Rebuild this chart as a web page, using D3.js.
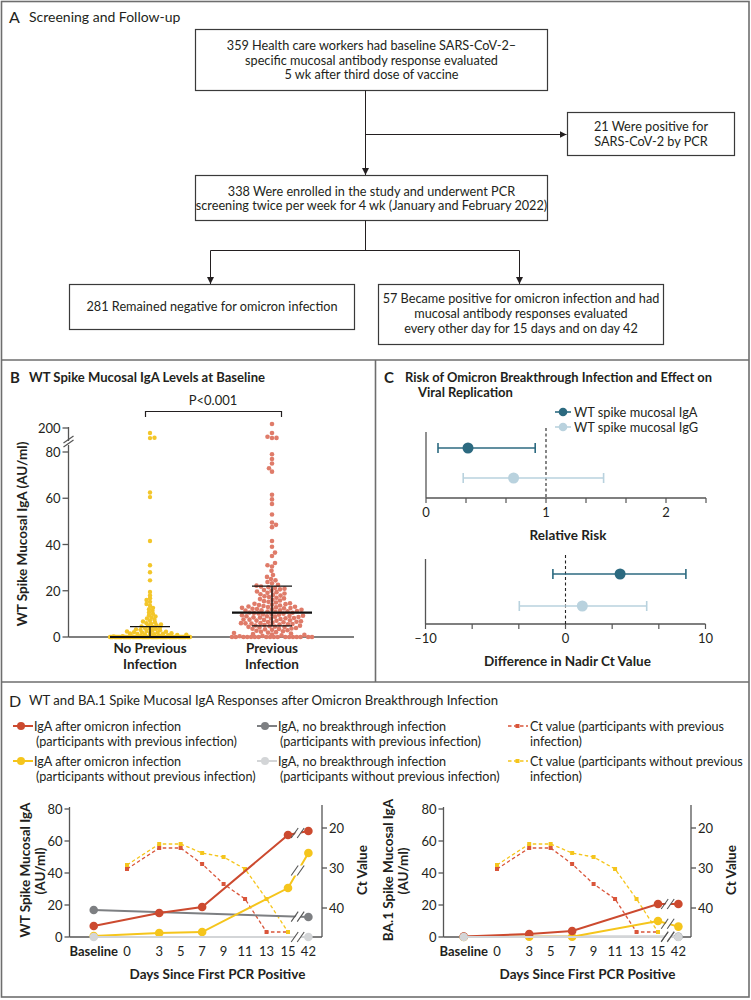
<!DOCTYPE html>
<html><head><meta charset="utf-8">
<script src="https://cdn.jsdelivr.net/npm/d3@7"></script>
<style>
body{margin:0;background:#fff;}
svg{display:block;font-family:Lato,"Open Sans",sans-serif;}
</style></head><body>
<svg id="fig" width="751" height="1000"></svg>
<script>
// ---------------- DATA ----------------
// Panel A (flow chart)
const flowTop = ["359 Health care workers had baseline SARS-CoV-2–", "specific mucosal antibody response evaluated", "5 wk after third dose of vaccine"];
const flowSide = ["21 Were positive for", "SARS-CoV-2 by PCR"];
const flowMid = ["338 Were enrolled in the study and underwent PCR", "screening twice per week for 4 wk (January and February 2022)"];
const flowLeft = ["281 Remained negative for omicron infection"];
const flowRight = ["57 Became positive for omicron infection and had", "mucosal antibody responses evaluated", "every other day for 15 days and on day 42"];

// Panel B
const groupsB = ["No Previous Infection", "Previous Infection"];
const yTicksB = [0, 20, 40, 60, 80, 200];
const noPrevIgA = [155, 112, 108, 62.5, 60.5, 41.5, 31, 28, 24.5, 19.5, 18, 16.8, 16, 15.2, 14.3, 13.5, 12.6, 12, 11.3, 10.6, 10, 9.4, 8.9, 8.4, 8, 7.5, 7.1, 6.7, 6.3, 6, 5.7, 5.4, 5.1, 4.8, 4.6, 4.4, 4.1, 3.9, 3.7, 3.5, 3.3, 3.1, 2.9, 2.8, 2.6, 2.4, 2.3, 2.1, 2, 1.9, 1.8, 1.6, 1.5, 1.4, 1.3, 1.2, 1.1, 1, 0.9, 0.8, 0.7, 0.6, 0.5, 0.4, 0.3, 0.2,
  0,0,0,0,0,0,0,0,0,0, 0,0,0,0,0,0,0,0,0,0, 0,0,0,0,0,0,0,0,0,0, 0,0,0,0,0,0,0,0,0,0,
  0,0,0,0,0,0,0,0,0,0, 0,0,0,0,0,0,0,0,0,0, 0,0,0,0,0,0,0,0,0,0, 0,0,0,0,0,0,0,0,0,0];
const prevIgA = [236, 155, 120, 110, 109, 79, 77, 75, 73, 71.5, 61.5, 59.5, 57.5, 53, 49.5, 48.5, 47.5, 41.5,
  39, 36.5, 35, 32, 31, 30.5, 28.6, 26.8, 26, 25.1, 24.5, 23.8, 23.2, 22.6, 22.2,
  21.8, 21.5, 21.2, 20.9, 20.6, 20.3, 20, 19.7, 19.4, 19.1, 18.8, 18.5, 18.2, 17.9, 17.6, 17.3, 17, 16.7, 16.4, 16.1, 15.8, 15.5, 15.2, 14.9,
  14.6, 14.4, 14.2, 14, 13.8, 13.6, 13.4, 13.2, 13, 12.8, 12.6, 12.5, 12.4, 12.2, 12, 11.8, 11.6, 11.5, 11.4, 11.2, 11, 10.8, 10.6, 10.5, 10.4, 10.2, 10, 9.8, 9.6, 9.4, 9.2, 9, 9, 8.8, 8.6, 8.5, 8.4, 8.2, 8, 7.8, 7.6, 7.5, 7.4, 7.2, 7, 6.8, 6.6, 6.4, 6.2, 6, 6, 5.8, 5.6, 5.4, 5.2, 5,
  13.1, 12.1, 11.1, 10.1, 9.1, 8.1, 7.1, 6.5, 5.9, 5.5, 4.4, 3.6,
  4.9, 4.7, 4.5, 4.3, 4.1, 3.9, 3.7, 3.5, 3.3, 3.1, 2.9, 2.7, 2.5, 2.3, 2.1, 1.9, 1.7, 1.5, 1.3, 1.1, 0.9, 0.7, 0.5, 0.3,
  0,0,0,0,0,0,0,0,0,0,0,0,0,0,0,0,0,0];
const medianB = [0, 10.5];
const lowerB = [0, 4.8];
const upperB = [4.5, 22];

// Panel C
const rrLabels = ["WT spike mucosal IgA", "WT spike mucosal IgG"];
const rrEst = [0.35, 0.73];
const rrLo = [0.1, 0.31];
const rrHi = [0.91, 1.48];
const rrTicks = [0, 1, 2];
const ctDiffEst = [3.9, 1.2];
const ctDiffLo = [-0.9, -3.3];
const ctDiffHi = [8.6, 5.8];
const ctDiffTicks = [-10, 0, 10];

// Panel D
const legendD = ["IgA after omicron infection|(participants with previous infection)",
  "IgA after omicron infection|(participants without previous infection)",
  "IgA, no breakthrough infection|(participants with previous infection)",
  "IgA, no breakthrough infection|(participants without previous infection)",
  "Ct value (participants with previous|infection)",
  "Ct value (participants without previous|infection)"];
const dayLabels = ["Baseline", "0", "3", "5", "7", "9", "11", "13", "15", "42"];
const igaDays = ["Baseline", "3", "7", "15", "42"];
const noBtDays = ["Baseline", "42"];
const ctDays = ["0", "3", "5", "7", "9", "11", "13", "15"];
const wtPrev = [6.9, 15, 18.75, 63.75, 66.25];
const wtNoPrev = [0.6, 2.5, 3.1, 30.6, 52.5];
const wtNoBtPrev = [16.9, 12.5];
const wtNoBtNoPrev = [0, 0];
const ba1Prev = [0.3, 1.9, 3.75, 20.6, 20.6];
const ba1NoPrev = [0, 0.2, 0.2, 10, 6.5];
const ba1NoBtPrev = [0.2, 0.2];
const ba1NoBtNoPrev = [0, 0];
const ctPrev = [30.25, 25, 25, 29, 34, 37.75, 46, 46];
const ctNoPrev = [29.25, 24, 24, 26.25, 27.25, 30.25, 37.75, 46];
const igaTicksD = [0, 20, 40, 60, 80];
const ctTicksD = [20, 30, 40];

// ---------------- STYLE ----------------
const C = {
  frame: "#6e6e6e", ink: "#231f20", axis: "#555",
  yellowDot: "#f3c62a", redDot: "#df7b69",
  igaDark: "#2c6a80", igaLight: "#b9d2de",
  red: "#cc4a2f", yellow: "#f5c51c", grayDark: "#7d7f82", grayLight: "#d3d5d7",
  ctRed: "#d9553a", ctYellow: "#f5c51c"
};
const svg = d3.select("#fig");
const defs = svg.append("defs");
defs.append("marker").attr("id", "arr").attr("viewBox", "0 0 10 10").attr("refX", 10).attr("refY", 5)
  .attr("markerWidth", 7).attr("markerHeight", 7).attr("markerUnits", "userSpaceOnUse").attr("orient", "auto")
  .append("path").attr("d", "M0,0L10,5L0,10z").attr("fill", C.ink);

function txt(g, x, y, s, opt = {}) {
  const t = g.append("text").attr("x", x).attr("y", y).text(s)
    .attr("font-size", opt.size || 13).attr("font-weight", opt.weight || "normal")
    .attr("text-anchor", opt.anchor || "start").attr("dominant-baseline", "central")
    .attr("fill", opt.fill || C.ink);
  if (opt.fit) t.attr("textLength", opt.fit).attr("lengthAdjust", "spacingAndGlyphs");
  return t;
}
function line(g, x1, y1, x2, y2, stroke, w, dash) {
  const l = g.append("line").attr("x1", x1).attr("y1", y1).attr("x2", x2).attr("y2", y2)
    .attr("stroke", stroke).attr("stroke-width", w || 1);
  if (dash) l.attr("stroke-dasharray", dash);
  return l;
}

// ---------------- FRAME ----------------
svg.append("rect").attr("x", 1.5).attr("y", 1.5).attr("width", 747.5).attr("height", 995.5)
  .attr("fill", "none").attr("stroke", C.frame).attr("stroke-width", 1.6);
line(svg, 1.5, 360, 749, 360, C.frame, 1.6);
line(svg, 375.5, 360, 375.5, 682, C.frame, 1.6);
line(svg, 1.5, 682, 749, 682, C.frame, 1.6);

// ---------------- PANEL A ----------------
const gA = svg.append("g");
txt(gA, 9, 16, "A", { size: 16 });
txt(gA, 29, 16, "Screening and Follow-up", { size: 14 });
function box(x, y, w, h, lines, y0, dy) {
  gA.append("rect").attr("x", x).attr("y", y).attr("width", w).attr("height", h)
    .attr("fill", "#fff").attr("stroke", "#3a3a3a").attr("stroke-width", 1.2);
  lines.forEach((s, i) => txt(gA, x + w / 2, y0 + i * dy, s, { size: 12.7, anchor: "middle" }));
}
box(195.5, 29.5, 352, 61, flowTop, 45, 14.5);
box(567.5, 112.5, 167, 43, flowSide, 126, 14.5);
box(195.5, 175.5, 352, 45, flowMid, 191, 14);
box(69.5, 284.5, 285, 45, flowLeft, 306, 14);
box(378.5, 284.5, 285, 60, flowRight, 298, 15);
line(gA, 365.5, 90.5, 365.5, 175).attr("marker-end", "url(#arr)");
line(gA, 365.5, 134.5, 566.5, 134.5).attr("marker-end", "url(#arr)");
line(gA, 365.5, 220.5, 365.5, 250.5);
line(gA, 210.5, 250.5, 519.5, 250.5);
line(gA, 210.5, 250.5, 210.5, 284).attr("marker-end", "url(#arr)");
line(gA, 519.5, 250.5, 519.5, 284).attr("marker-end", "url(#arr)");
gA.selectAll("line").attr("stroke", C.ink);

// ---------------- PANEL B ----------------
const gB = svg.append("g");
txt(gB, 10, 377, "B", { size: 15, weight: "bold" });
txt(gB, 29, 377, "WT Spike Mucosal IgA Levels at Baseline", { size: 13, weight: "bold", fit: 236 });
const yLow = d3.scaleLinear().domain([0, 80]).range([637, 452]);
const yHigh = d3.scaleLinear().domain([100, 200]).range([439, 428]);
const yB = v => v <= 80 ? yLow(v) : yHigh(v);
const xB = d3.scalePoint().domain(groupsB).range([150, 272]);
const axisXB = 68.5;
line(gB, axisXB, 427, axisXB, 637, C.axis, 1.3);
line(gB, axisXB, 637, 354, 637, C.axis, 1.3);
yTicksB.forEach(t => {
  line(gB, axisXB - 6, yB(t), axisXB, yB(t), C.axis, 1.3);
  txt(gB, axisXB - 8, yB(t), String(t), { size: 13, anchor: "end" });
});
gB.append("rect").attr("x", axisXB - 3).attr("y", 441).attr("width", 6).attr("height", 4).attr("fill", "#fff");
line(gB, axisXB - 5, 443, axisXB + 5, 436, C.axis, 1.2);
line(gB, axisXB - 5, 447, axisXB + 5, 440, C.axis, 1.2);
txt(gB, 22, 534, "WT Spike Mucosal IgA (AU/ml)", { size: 13.5, weight: "bold", anchor: "middle" })
  .attr("transform", "rotate(-90,22,534)");
groupsB.forEach(g => {
  const parts = g === groupsB[0] ? ["No Previous", "Infection"] : ["Previous", "Infection"];
  txt(gB, xB(g), 648, parts[0], { size: 13.5, weight: "bold", anchor: "middle" });
  txt(gB, xB(g), 664, parts[1], { size: 13.5, weight: "bold", anchor: "middle" });
});
// scatter-dot layout: bottom row compressed, other points placed as a beeswarm
function swarm(values, cx, halfW, D, k, row0H) {
  const placed = [];
  const row0 = values.filter(v => yB(0) - yB(v) < row0H).sort((a, b) => a - b);
  const n0 = row0.length;
  const sp = n0 > 1 ? Math.min(D, 2 * halfW / (n0 - 1)) : 0;
  const nonZero = row0.filter(v => v > 0);
  const step = nonZero.length ? n0 / nonZero.length : 0;
  const taken = new Set();
  nonZero.forEach((v, i) => {
    let s = Math.min(n0 - 1, Math.floor(step * (i + 0.5)));
    while (taken.has(s)) s = (s + 1) % n0;
    taken.add(s);
    placed.push({ v, y: yB(v), x: cx + (s - (n0 - 1) / 2) * sp });
  });
  d3.range(n0).filter(s => !taken.has(s)).forEach(s => placed.push({ v: 0, y: yB(0), x: cx + (s - (n0 - 1) / 2) * sp }));
  const rest = values.filter(v => yB(0) - yB(v) >= row0H).sort((a, b) => a - b);
  rest.forEach((v, j) => {
    const y = yB(v);
    const near = placed.filter(p => Math.abs(p.y - y) * k < D);
    const minD = x => near.reduce((m, p) => Math.min(m, Math.hypot(p.x - x, (p.y - y) * k)), Infinity);
    let best = null;
    const sgn = j % 2 ? 1 : -1;
    for (let o = 0; o <= halfW && best === null; o += 0.5) {
      for (const s of [sgn, -sgn]) {
        if (minD(cx + s * o) >= D) { best = cx + s * o; break; }
      }
    }
    if (best === null) {
      let bd = -1;
      for (let o = -halfW; o <= halfW; o += 1) { const d = minD(cx + o); if (d > bd) { bd = d; best = cx + o; } }
    }
    placed.push({ v, y, x: best });
  });
  return placed;
}
const swarmNo = swarm(noPrevIgA, xB(groupsB[0]), 40, 4.3, 1.6, 2.4);
const swarmPrev = swarm(prevIgA, xB(groupsB[1]), 40, 4.4, 1.0, 2.4);
gB.append("g").selectAll("circle").data(swarmNo).join("circle").attr("cx", d => d.x).attr("cy", d => d.y).attr("r", 2.2).attr("fill", C.yellowDot);
gB.append("g").selectAll("circle").data(swarmPrev).join("circle").attr("cx", d => d.x).attr("cy", d => d.y).attr("r", 2.3).attr("fill", C.redDot);
groupsB.forEach((g, i) => {
  const cx = xB(g);
  line(gB, cx - 40, yB(medianB[i]), cx + 40, yB(medianB[i]), "#111", 2.2);
  line(gB, cx - 20, yB(upperB[i]), cx + 20, yB(upperB[i]), "#111", 1.4);
  line(gB, cx - 20, yB(lowerB[i]), cx + 20, yB(lowerB[i]), "#111", 1.4);
  line(gB, cx, yB(lowerB[i]), cx, yB(upperB[i]), "#111", 1.4);
});
line(gB, 145.5, 411.5, 281.5, 411.5, C.ink, 1.2);
line(gB, 145.5, 411, 145.5, 417, C.ink, 1.2);
line(gB, 281.5, 411, 281.5, 417, C.ink, 1.2);
txt(gB, 213, 400, "P<0.001", { size: 13, anchor: "middle" });

// ---------------- PANEL C ----------------
const gC = svg.append("g");
txt(gC, 384, 377, "C", { size: 15, weight: "bold" });
txt(gC, 405, 377, "Risk of Omicron Breakthrough Infection and Effect on", { size: 13, weight: "bold", fit: 307 });
txt(gC, 418, 392, "Viral Replication", { size: 13, weight: "bold" });
const colC = [C.igaDark, C.igaLight];
rrLabels.forEach((l, i) => {
  const y = 412 + i * 15;
  line(gC, 555, y, 571, y, colC[i], 1.6);
  gC.append("circle").attr("cx", 563).attr("cy", y).attr("r", 4.3).attr("fill", colC[i]);
  txt(gC, 574, y, l, { size: 12.8 });
});
function forest(x, yRows, axisY, axisTop, ticks, labelTicks, est, lo, hi, refVal, title) {
  line(gC, x.range()[0], axisTop, x.range()[0], axisY, C.axis, 1.3);
  line(gC, x.range()[0], axisY, x.range()[1], axisY, C.axis, 1.3);
  ticks.forEach(t => line(gC, x(t), axisY, x(t), axisY + 5, C.axis, 1.2));
  labelTicks.forEach(t => txt(gC, x(t), axisY + 14, t < 0 ? "–" + Math.abs(t) : String(t), { size: 13, anchor: "middle" }));
  line(gC, x(refVal), axisTop - 4, x(refVal), axisY, "#222", 1.1, "3,2.5");
  est.forEach((e, i) => {
    const y = yRows[i];
    line(gC, x(lo[i]), y, x(hi[i]), y, colC[i], 1.6);
    line(gC, x(lo[i]), y - 5, x(lo[i]), y + 5, colC[i], 1.6);
    line(gC, x(hi[i]), y - 5, x(hi[i]), y + 5, colC[i], 1.6);
    gC.append("circle").attr("cx", x(e)).attr("cy", y).attr("r", 5.5).attr("fill", colC[i]);
  });
  txt(gC, (x.range()[0] + x.range()[1]) / 2 + 2, axisY + 37, title, { size: 13.5, weight: "bold", anchor: "middle" });
}
const xRR = d3.scaleLinear().domain([0, 7 / 3]).range([426, 706]);
forest(xRR, [448, 478], 498, 432, d3.range(0, 8).map(k => k / 3), rrTicks, rrEst, rrLo, rrHi, 1, "Relative Risk");
const xCt = d3.scaleLinear().domain([-10, 10]).range([425.5, 705.5]);
forest(xCt, [574, 606], 624, 559, d3.range(0, 7).map(k => -10 + k * 10 / 3), ctDiffTicks, ctDiffEst, ctDiffLo, ctDiffHi, 0, "Difference in Nadir Ct Value");

// ---------------- PANEL D ----------------
const gD = svg.append("g");
txt(gD, 9, 700, "D", { size: 16 });
txt(gD, 29, 700, "WT and BA.1 Spike Mucosal IgA Responses after Omicron Breakthrough Infection", { size: 13.5, fit: 469 });
const legCol = [C.red, C.yellow, C.grayDark, C.grayLight, C.ctRed, C.ctYellow];
const legX = [13, 13, 257, 257, 508, 508];
const legY = [726, 761, 726, 761, 726, 761];
legendD.forEach((s, i) => {
  const [a, b] = s.split("|");
  const x = legX[i], y = legY[i];
  if (i < 4) {
    line(gD, x, y, x + 20, y, legCol[i], 2);
    gD.append("circle").attr("cx", x + 8).attr("cy", y).attr("r", 4).attr("fill", legCol[i]);
    txt(gD, x + 21, y, a, { size: 12.6 });
    txt(gD, x + 23, y + 15, b, { size: 12.6 });
  } else {
    line(gD, x, y, x + 20, y, legCol[i], 1.4, "3.5,2.5");
    gD.append("rect").attr("x", x + 7.5).attr("y", y - 2).attr("width", 4).attr("height", 4).attr("fill", legCol[i]);
    txt(gD, x + 22, y, a, { size: 12.6 });
    txt(gD, x + 22, y + 15, b, { size: 12.6 });
  }
});

function panelD(cfg) {
  const g = gD.append("g");
  const xd = d3.scaleLinear().domain([0, 15]).range([cfg.x0, cfg.x15]);
  const pos = l => l === "Baseline" ? xd(-3.1) : l === "42" ? xd(16.9) : xd(+l);
  const y = d3.scaleLinear().domain([0, 80]).range([937, 809]);
  const yCt = d3.scaleLinear().domain([20, 40]).range([828, 908]);
  line(g, cfg.ax, 807, cfg.ax, 937, C.axis, 1.3);
  line(g, cfg.ax, 937, cfg.rax, 937, C.axis, 1.3);
  line(g, cfg.rax, 805, cfg.rax, 937, C.axis, 1.3);
  igaTicksD.forEach(t => {
    line(g, cfg.ax - 5, y(t), cfg.ax, y(t), C.axis, 1.3);
    txt(g, cfg.ax - 7, y(t), String(t), { size: 13, anchor: "end" });
  });
  ctTicksD.forEach(t => {
    line(g, cfg.rax, yCt(t), cfg.rax + 5, yCt(t), C.axis, 1.3);
    txt(g, cfg.rax + 7, yCt(t), String(t), { size: 13 });
  });
  dayLabels.forEach(l => txt(g, pos(l), 951, l, { size: 13, anchor: "middle", weight: l === "Baseline" ? "bold" : "normal" }));
  txt(g, (cfg.x0 + cfg.x15) / 2 + 10, 974, "Days Since First PCR Positive", { size: 13.5, weight: "bold", anchor: "middle" });
  txt(g, cfg.ylx, 870, cfg.ylab, { size: 13.5, weight: "bold", anchor: "middle" }).attr("transform", `rotate(-90,${cfg.ylx},870)`);
  txt(g, cfg.ylx + 15, 871, "(AU/ml)", { size: 13.5, weight: "bold", anchor: "middle" }).attr("transform", `rotate(-90,${cfg.ylx + 15},871)`);
  txt(g, cfg.ctx, 870, "Ct Value", { size: 13.5, weight: "bold", anchor: "middle" }).attr("transform", `rotate(-90,${cfg.ctx},870)`);
  [[cfg.ctP, C.ctRed], [cfg.ctN, C.ctYellow]].forEach(([vals, col]) => {
    const pts = ctDays.map((d, i) => [pos(d), yCt(vals[i])]);
    g.append("path").attr("d", d3.line()(pts)).attr("fill", "none").attr("stroke", col).attr("stroke-width", 1.3).attr("stroke-dasharray", "3.5,2.5");
    g.append("g").selectAll("rect").data(pts).join("rect").attr("x", p => p[0] - 2).attr("y", p => p[1] - 2).attr("width", 4).attr("height", 4).attr("fill", col);
  });
  const series = [
    [noBtDays, cfg.nbP, C.grayDark], [igaDays, cfg.n, C.yellow], [igaDays, cfg.p, C.red], [noBtDays, cfg.nbN, C.grayLight]
  ];
  series.forEach(([days, vals, col]) => {
    const pts = days.map((d, i) => [pos(d), y(vals[i])]);
    g.append("path").attr("d", d3.line()(pts)).attr("fill", "none").attr("stroke", col).attr("stroke-width", 2);
    g.append("g").selectAll("circle").data(pts).join("circle").attr("cx", p => p[0]).attr("cy", p => p[1]).attr("r", 4.3).attr("fill", col);
  });
  const bx = (pos("15") + pos("42")) / 2;
  const yAtBreak = (days, vals) => {
    const x1 = pos(days[days.length - 2]), x2 = pos(days[days.length - 1]);
    const y1 = y(vals[vals.length - 2]), y2 = y(vals[vals.length - 1]);
    return y1 + (y2 - y1) * (bx - x1) / (x2 - x1);
  };
  const breakYs = [937, yAtBreak(igaDays, cfg.p), yAtBreak(igaDays, cfg.n), yAtBreak(noBtDays, cfg.nbP)];
  breakYs.forEach(by => {
    g.append("polygon").attr("points", `${bx - 6},${by + 5} ${bx - 1},${by + 5} ${bx + 6},${by - 5} ${bx + 1},${by - 5}`).attr("fill", "#fff");
    line(g, bx - 7, by + 5, bx, by - 5, C.axis, 1.1);
    line(g, bx - 1, by + 5, bx + 6, by - 5, C.axis, 1.1);
  });
}
panelD({ x0: 127, x15: 288, ax: 69.5, rax: 322, ylx: 25, ctx: 362, ylab: "WT Spike Mucosal IgA",
  p: wtPrev, n: wtNoPrev, nbP: wtNoBtPrev, nbN: wtNoBtNoPrev, ctP: ctPrev, ctN: ctNoPrev });
panelD({ x0: 497, x15: 658, ax: 443.5, rax: 691, ylx: 388, ctx: 731, ylab: "BA.1 Spike Mucosal IgA",
  p: ba1Prev, n: ba1NoPrev, nbP: ba1NoBtPrev, nbN: ba1NoBtNoPrev, ctP: ctPrev, ctN: ctNoPrev });
</script>
</body></html>
